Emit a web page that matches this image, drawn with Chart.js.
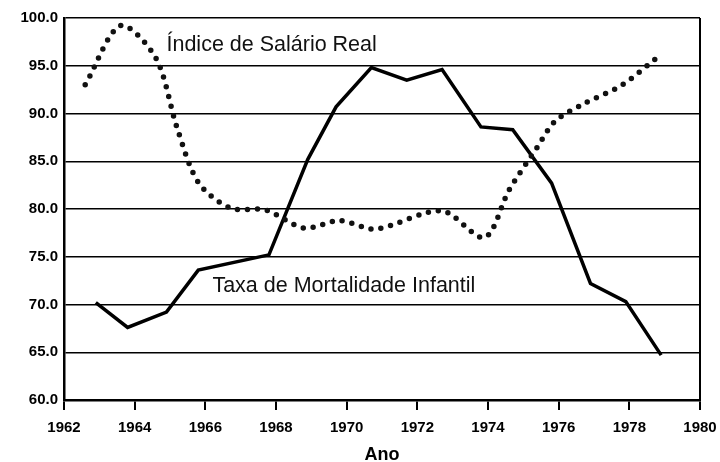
<!DOCTYPE html>
<html>
<head>
  <meta charset="utf-8">
  <title>Salário Real e Mortalidade Infantil</title>
  <script src="https://cdn.jsdelivr.net/npm/chart.js"></script>
  <style>
    html, body {
      margin: 0;
      padding: 0;
      background: #ffffff;
    }

    .wrap {
      position: relative;
      width: 720px;
      height: 462px;
    }
  </style>
</head>
<body>

  <div class="wrap">
    <canvas id="grafico"></canvas>
  </div>

  <script>

    // Índice de Salário Real (linha pontilhada)
    var anosSalario = [1962.6, 1963.6, 1964.6, 1965.2, 1965.8, 1966.7, 1967.7, 1968.8, 1969.8, 1970.8, 1972.7, 1973.9, 1974.6, 1975.4, 1975.9, 1976.7, 1977.8, 1978.9];
    var valoresSalario = [93.0, 99.2, 95.8, 88.5, 82.8, 80.1, 79.9, 78.0, 78.8, 77.9, 79.8, 77.0, 82.0, 86.5, 89.2, 91.0, 93.0, 96.2];

    // Taxa de Mortalidade Infantil (linha contínua)
    var anosMortalidade = [1962.9, 1963.8, 1964.9, 1965.8, 1967.8, 1968.9, 1969.7, 1970.7, 1971.7, 1972.7, 1973.8, 1974.7, 1975.8, 1976.9, 1977.9, 1978.9];
    var valoresMortalidade = [70.2, 67.6, 69.2, 73.6, 75.2, 85.2, 90.7, 94.8, 93.5, 94.6, 88.6, 88.3, 82.7, 72.2, 70.3, 64.7];

    var rotulosY = ['60.0', '65.0', '70.0', '75.0', '80.0', '85.0', '90.0', '95.0', '100.0'];
    var nomesSeries = ['Índice de Salário Real', 'Taxa de Mortalidade Infantil'];

    function pares(xs, ys) {
      return xs.map(function (x, i) { return { x: x, y: ys[i] }; });
    }

    // escreve o nome de cada série dentro do gráfico
    var rotulosSeries = {
      id: 'rotulosSeries',
      afterDatasetsDraw: function (chart) {
        var c = chart.ctx;
        var sx = chart.scales.x, sy = chart.scales.y;
        var pos = [[1964.9, 96.5], [1966.2, 71.3]];
        c.save();
        c.fillStyle = '#111';
        c.font = '21.5px "Liberation Sans", Arial, sans-serif';
        c.textBaseline = 'alphabetic';
        c.textAlign = 'left';
        nomesSeries.forEach(function (n, i) {
          c.fillText(n, sx.getPixelForValue(pos[i][0]), sy.getPixelForValue(pos[i][1]));
        });
        c.restore();
      }
    };

    var ctx = document.getElementById('grafico').getContext('2d');
    var grafico = new Chart(ctx, {
      type: 'line',
      data: {
        datasets: [{
          label: nomesSeries[0],
          data: pares(anosSalario, valoresSalario),
          borderColor: '#111',
          borderWidth: 5.5,
          borderDash: [0, 10],
          borderCapStyle: 'round',
          tension: 0.3,
          pointRadius: 0,
          fill: false
        }, {
          label: nomesSeries[1],
          data: pares(anosMortalidade, valoresMortalidade),
          borderColor: '#000',
          borderWidth: 3.5,
          borderJoinStyle: 'miter',
          tension: 0,
          pointRadius: 0,
          fill: false
        }]
      },
      options: {
        responsive: true,
        maintainAspectRatio: false,
        animation: false,
        layout: {
          padding: { top: 18, right: 20, bottom: 0, left: 0 }
        },
        plugins: {
          legend: { display: false },
          tooltip: { enabled: false }
        },
        scales: {
          x: {
            type: 'linear',
            min: 1962,
            max: 1980,
            afterFit: function (s) {
              s.height = 62;
              s.paddingLeft = 0;
              s.paddingRight = 0;
            },
            ticks: {
              stepSize: 2,
              color: '#000',
              padding: 9,
              font: { family: '"Liberation Sans", Arial, sans-serif', size: 15, weight: 'bold' },
              callback: function (v) { return String(v); }
            },
            grid: {
              color: function (c) { return c.tick && c.tick.value === 1980 ? '#000' : 'rgba(0,0,0,0)'; },
              lineWidth: 2,
              tickColor: '#000',
              tickLength: 10
            },
            border: { color: '#000', width: 2.5 },
            title: {
              display: true,
              text: 'Ano',
              color: '#000',
              padding: { top: 0, bottom: -4 },
              font: { family: '"Liberation Sans", Arial, sans-serif', size: 18, weight: 'bold' }
            }
          },
          y: {
            min: 60,
            max: 100,
            afterFit: function (s) { s.width = 64; },
            ticks: {
              stepSize: 5,
              color: '#000',
              padding: 6,
              font: { family: '"Liberation Sans", Arial, sans-serif', size: 15, weight: 'bold' },
              callback: function (v, i) { return rotulosY[i]; }
            },
            grid: {
              color: '#000',
              lineWidth: 1.5,
              drawTicks: false
            },
            border: { color: '#000', width: 2.5 }
          }
        }
      },
      plugins: [rotulosSeries]
    });

  </script>
</body>
</html>
